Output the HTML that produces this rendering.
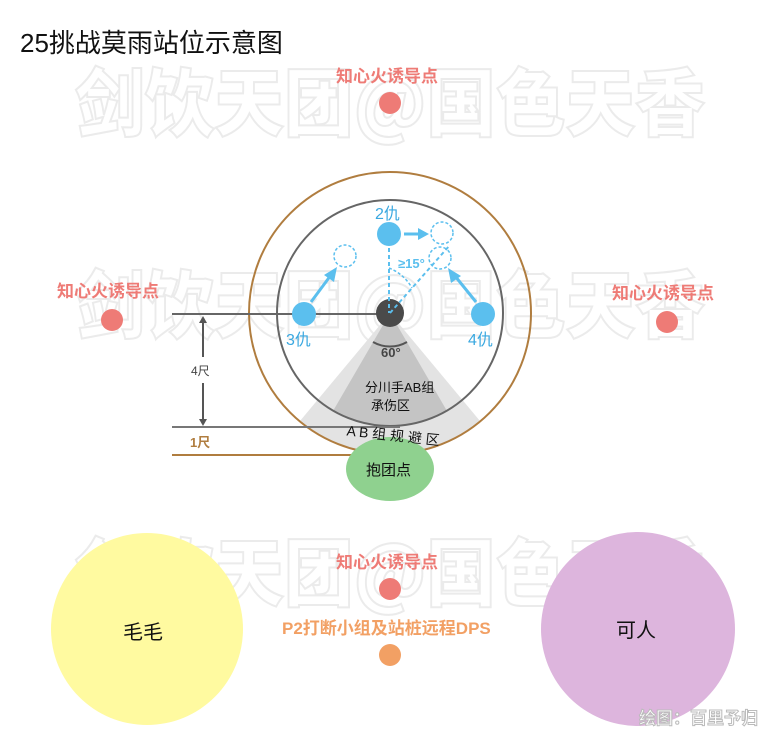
<!DOCTYPE html>
<html><head><meta charset="utf-8"><style>
html,body{margin:0;padding:0;background:#fff;}
svg{display:block;font-family:"Liberation Sans","Noto Sans CJK SC",sans-serif;}
.wm{font-family:"Noto Sans CJK SC",sans-serif;font-weight:900;font-size:74px;fill:#fff;stroke:#ebebeb;stroke-width:2;}
.pk{fill:#ee7b76;font-size:17px;font-weight:bold;}
</style></head><body>
<svg width="783" height="741" viewBox="0 0 783 741" xmlns="http://www.w3.org/2000/svg">
<text x="20" y="52" font-size="26" fill="#111">25挑战莫雨站位示意图</text>
<text class="wm" x="75" y="130" textLength="630" lengthAdjust="spacingAndGlyphs">剑饮天团@国色天香</text>
<text class="wm" x="75" y="332" textLength="630" lengthAdjust="spacingAndGlyphs">剑饮天团@国色天香</text>
<text class="wm" x="75" y="600" textLength="630" lengthAdjust="spacingAndGlyphs">剑饮天团@国色天香</text>

<path d="M390,313 L300,421 A140,140 0 0 0 480,421 Z" fill="#e3e3e3"/>
<path d="M390,313 L333,411 A113,113 0 0 0 447,411 Z" fill="#c4c4c4"/>
<path d="M373,342 A34,34 0 0 0 407,342" fill="none" stroke="#555" stroke-width="2"/>
<text x="381" y="357" font-size="13" font-weight="bold" fill="#444">60°</text>
<text x="365" y="392" font-size="13" fill="#111">分川手AB组</text>
<text x="371" y="410" font-size="13" fill="#111">承伤区</text>

<circle cx="390" cy="313" r="141" fill="none" stroke="#b07d3f" stroke-width="2"/>
<circle cx="390" cy="313" r="113" fill="none" stroke="#666" stroke-width="2"/>

<line x1="172" y1="314" x2="390" y2="314" stroke="#666" stroke-width="2"/>
<line x1="172" y1="427" x2="400" y2="427" stroke="#777" stroke-width="2"/>
<line x1="172" y1="455" x2="400" y2="455" stroke="#b07d3f" stroke-width="2"/>
<line x1="203" y1="320" x2="203" y2="357" stroke="#555" stroke-width="2"/>
<line x1="203" y1="383" x2="203" y2="421" stroke="#555" stroke-width="2"/>
<path d="M199,323 L203,316 L207,323 Z" fill="#555"/>
<path d="M199,419 L203,426 L207,419 Z" fill="#555"/>
<text x="191" y="375" font-size="12" fill="#444">4尺</text>
<text x="190" y="447" font-size="13" font-weight="bold" fill="#b07d3f">1尺</text>

<circle cx="390" cy="313" r="14" fill="#4a4a4a"/>

<line x1="389" y1="248" x2="389" y2="313" stroke="#5bbfee" stroke-width="2" stroke-dasharray="4,3"/>
<line x1="390" y1="313" x2="450" y2="245" stroke="#5bbfee" stroke-width="2" stroke-dasharray="4,3"/>
<path d="M389,268 A45,45 0 0 1 412,288" fill="none" stroke="#5bbfee" stroke-width="1.5" stroke-dasharray="3,2"/>
<text x="398" y="268" font-size="13" font-weight="bold" fill="#5bbfee">≥15°</text>
<circle cx="345" cy="256" r="11" fill="#fff" stroke="#5bbfee" stroke-width="1.5" stroke-dasharray="3,2"/>
<circle cx="442" cy="233" r="11" fill="#fff" stroke="#5bbfee" stroke-width="1.5" stroke-dasharray="3,2"/>
<circle cx="440" cy="258" r="11" fill="none" stroke="#5bbfee" stroke-width="1.5" stroke-dasharray="3,2"/>

<line x1="311" y1="302" x2="331" y2="275" stroke="#5bbfee" stroke-width="3"/>
<path d="M337,267 L324,275 L334,282 Z" fill="#5bbfee"/>
<line x1="476" y1="302" x2="455" y2="276" stroke="#5bbfee" stroke-width="3"/>
<path d="M448,268 L451,283 L461,276 Z" fill="#5bbfee"/>
<line x1="404" y1="234" x2="420" y2="234" stroke="#5bbfee" stroke-width="3"/>
<path d="M429,234 L418,228 L418,240 Z" fill="#5bbfee"/>

<circle cx="389" cy="234" r="12" fill="#5bbfee"/>
<circle cx="304" cy="314" r="12" fill="#5bbfee"/>
<circle cx="483" cy="314" r="12" fill="#5bbfee"/>
<text x="375" y="219" font-size="16" fill="#3aa8e0">2仇</text>
<text x="286" y="345" font-size="16" fill="#3aa8e0">3仇</text>
<text x="468" y="345" font-size="16" fill="#3aa8e0">4仇</text>

<ellipse cx="390" cy="469" rx="44" ry="32" fill="#8fd18f"/>
<text x="366" y="475" font-size="15" fill="#111">抱团点</text>
<text x="346" y="440" font-size="14" fill="#111" transform="rotate(6 390 440)">A B 组 规 避 区</text>

<text class="pk" x="336" y="82">知心火诱导点</text>
<circle cx="390" cy="103" r="11" fill="#ee7b76"/>
<text class="pk" x="57" y="297">知心火诱导点</text>
<circle cx="112" cy="320" r="11" fill="#ee7b76"/>
<text class="pk" x="612" y="299">知心火诱导点</text>
<circle cx="667" cy="322" r="11" fill="#ee7b76"/>
<text class="pk" x="336" y="568">知心火诱导点</text>
<circle cx="390" cy="589" r="11" fill="#ee7b76"/>
<text x="282" y="634" font-size="17" font-weight="bold" fill="#f2a064">P2打断小组及站桩远程DPS</text>
<circle cx="390" cy="655" r="11" fill="#f2a064"/>

<circle cx="147" cy="629" r="96" fill="#fffaa0"/>
<text x="123" y="639" font-size="20" fill="#111">毛毛</text>
<circle cx="638" cy="629" r="97" fill="#ddb5dd"/>
<text x="616" y="637" font-size="20" fill="#111">可人</text>

<text x="639" y="724" font-size="17" font-weight="bold" fill="#fff" stroke="#bbb" stroke-width="1">绘图：百里予归</text>
</svg>
</body></html>
